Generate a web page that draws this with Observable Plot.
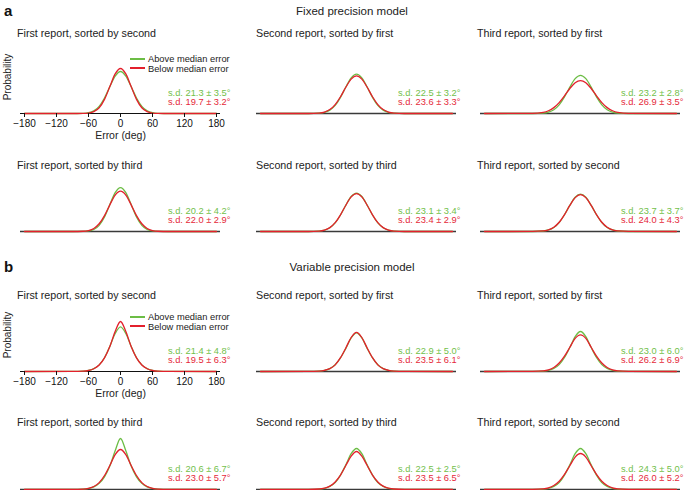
<!DOCTYPE html>
<html>
<head>
<meta charset="utf-8">
<script src="https://cdn.jsdelivr.net/npm/d3@7"></script>
<script src="https://cdn.jsdelivr.net/npm/@observablehq/plot@0.6"></script>
<style>
  html, body { margin: 0; padding: 0; background: #fff; overflow: hidden; }
  #root { position: relative; width: 685px; height: 490px; overflow: hidden;
          font-family: "Liberation Sans", Arial, Helvetica, sans-serif; color: #222; }
  .abs { position: absolute; white-space: nowrap; }
  .panel svg { display: block; }
</style>
</head>
<body>
<div id="root"></div>
<script>
// ---------------- DATA ----------------
const errorDeg = [-180, -90, -70, -60, -50, -40, -30, -20, -10, 0, 10, 20, 30, 40, 50, 60, 70, 90, 180];
const xTicks = [-180, -120, -60, 0, 60, 120, 180];

const panelTitles = [
  "First report, sorted by second", "Second report, sorted by first", "Third report, sorted by first",
  "First report, sorted by third", "Second report, sorted by third", "Third report, sorted by second"
];
const modelTitles = ["Fixed precision model", "Variable precision model"];
const modelLetters = ["a", "b"];
const seriesNames = ["Above median error", "Below median error"];
const axisLabels = {x: "Error (deg)", y: "Probability"};

const fixedSdAbove = ["21.3 ± 3.5", "22.5 ± 3.2", "23.2 ± 2.8", "20.2 ± 4.2", "23.1 ± 3.4", "23.7 ± 3.7"];
const fixedSdBelow = ["19.7 ± 3.2", "23.6 ± 3.3", "26.9 ± 3.5", "22.0 ± 2.9", "23.4 ± 2.9", "24.0 ± 4.3"];
const variableSdAbove = ["21.4 ± 4.8", "22.9 ± 5.0", "23.0 ± 6.0", "20.6 ± 6.7", "22.5 ± 2.5", "24.3 ± 5.0"];
const variableSdBelow = ["19.5 ± 6.3", "23.5 ± 6.1", "26.2 ± 6.9", "23.0 ± 5.7", "23.5 ± 6.5", "26.0 ± 5.2"];

// probability density (x 10^-3 per degree) at each errorDeg value
const fixedAbove = [
  [0, 0, 0.08, 0.35, 1.19, 3.21, 6.95, 12.05, 16.78, 18.9, 16.78, 12.05, 6.95, 3.21, 1.19, 0.35, 0.08, 0, 0],
  [0, 0.01, 0.14, 0.51, 1.50, 3.65, 7.29, 11.94, 16.06, 17.73, 16.06, 11.94, 7.29, 3.65, 1.50, 0.51, 0.14, 0.01, 0],
  [0, 0.01, 0.18, 0.61, 1.69, 3.89, 7.45, 11.85, 15.67, 17.19, 15.67, 11.85, 7.45, 3.89, 1.69, 0.61, 0.18, 0.01, 0],
  [0, 0, 0.05, 0.24, 0.92, 2.78, 6.56, 12.10, 17.47, 19.75, 17.47, 12.10, 6.56, 2.78, 0.92, 0.24, 0.05, 0, 0],
  [0, 0.01, 0.17, 0.59, 1.66, 3.86, 7.43, 11.87, 15.73, 17.27, 15.73, 11.87, 7.43, 3.86, 1.66, 0.59, 0.17, 0.01, 0],
  [0, 0.01, 0.22, 0.68, 1.82, 4.05, 7.55, 11.79, 15.40, 16.83, 15.40, 11.79, 7.55, 4.05, 1.82, 0.68, 0.22, 0.01, 0]
];
const fixedBelow = [
  [0, 0, 0.04, 0.20, 0.81, 2.58, 6.35, 12.10, 17.80, 20.25, 17.80, 12.10, 6.35, 2.58, 0.81, 0.20, 0.04, 0, 0],
  [0, 0.01, 0.21, 0.67, 1.79, 4.02, 7.53, 11.80, 15.45, 16.90, 15.45, 11.80, 7.53, 4.02, 1.79, 0.67, 0.21, 0.01, 0],
  [0, 0.05, 0.50, 1.23, 2.64, 4.91, 7.96, 11.25, 13.84, 14.83, 13.84, 11.25, 7.96, 4.91, 2.64, 1.23, 0.50, 0.05, 0],
  [0, 0, 0.11, 0.44, 1.37, 3.47, 7.15, 11.99, 16.35, 18.13, 16.35, 11.99, 7.15, 3.47, 1.37, 0.44, 0.11, 0, 0],
  [0, 0.01, 0.19, 0.64, 1.74, 3.96, 7.50, 11.83, 15.56, 17.05, 15.56, 11.83, 7.50, 3.96, 1.74, 0.64, 0.19, 0.01, 0],
  [0, 0.02, 0.24, 0.73, 1.90, 4.15, 7.61, 11.75, 15.24, 16.62, 15.24, 11.75, 7.61, 4.15, 1.90, 0.73, 0.24, 0.02, 0]
];
const variableAbove = [
  [0, 0.04, 0.18, 0.5, 1.3, 3.0, 6.2, 11.3, 17.1, 20.1, 17.1, 11.3, 6.2, 3.0, 1.3, 0.5, 0.18, 0.04, 0],
  [0, 0.03, 0.17, 0.52, 1.3, 3.0, 6.1, 10.4, 15.1, 17.4, 15.1, 10.4, 6.1, 3.0, 1.3, 0.52, 0.17, 0.03, 0],
  [0, 0.04, 0.18, 0.54, 1.35, 3.1, 6.3, 10.8, 15.7, 18.0, 15.7, 10.8, 6.3, 3.1, 1.35, 0.54, 0.18, 0.04, 0],
  [0, 0.02, 0.16, 0.46, 1.15, 2.75, 5.7, 10.6, 17.4, 22.95, 17.4, 10.6, 5.7, 2.75, 1.15, 0.46, 0.16, 0.02, 0],
  [0, 0.04, 0.18, 0.55, 1.4, 3.1, 6.5, 11.1, 16.1, 18.45, 16.1, 11.1, 6.5, 3.1, 1.4, 0.55, 0.18, 0.04, 0],
  [0, 0.04, 0.18, 0.55, 1.4, 3.1, 6.5, 11.1, 16.1, 18.45, 16.1, 11.1, 6.5, 3.1, 1.4, 0.55, 0.18, 0.04, 0]
];
const variableBelow = [
  [0, 0.02, 0.16, 0.45, 1.24, 2.9, 6.1, 11.25, 18.0, 22.5, 18.0, 11.25, 6.1, 2.9, 1.24, 0.45, 0.16, 0.02, 0],
  [0, 0.04, 0.18, 0.53, 1.3, 3.0, 6.2, 10.6, 15.3, 17.6, 15.3, 10.6, 6.2, 3.0, 1.3, 0.53, 0.18, 0.04, 0],
  [0, 0.07, 0.28, 0.74, 1.8, 3.8, 6.9, 10.9, 14.9, 16.5, 14.9, 10.9, 6.9, 3.8, 1.8, 0.74, 0.28, 0.07, 0],
  [0, 0.04, 0.18, 0.54, 1.35, 3.1, 6.3, 10.8, 15.7, 18.0, 15.7, 10.8, 6.3, 3.1, 1.35, 0.54, 0.18, 0.04, 0],
  [0, 0.05, 0.22, 0.63, 1.5, 3.4, 6.5, 10.8, 15.0, 17.1, 15.0, 10.8, 6.5, 3.4, 1.5, 0.63, 0.22, 0.05, 0],
  [0, 0.06, 0.28, 0.73, 1.8, 3.7, 6.8, 10.7, 14.6, 16.2, 14.6, 10.7, 6.8, 3.7, 1.8, 0.73, 0.28, 0.06, 0]
];

// ---------------- STYLE / LAYOUT ----------------
const GREEN = "#6cbd45";
const RED = "#e3202c";
const GREEN_TXT = "#72c04a";
const RED_TXT = "#e5283a";
const FONT = '"Liberation Sans", Arial, Helvetica, sans-serif';

const models = [
  {above: fixedAbove, below: fixedBelow, sdA: fixedSdAbove, sdB: fixedSdBelow, headY: 11, rows: [113, 231], titleY: [33, 165]},
  {above: variableAbove, below: variableBelow, sdA: variableSdAbove, sdB: variableSdBelow, headY: 267, rows: [371, 489], titleY: [295, 422]}
];
const cols = [
  {lineStart: 20, mr: 12, dx: 10, titleX: 17},
  {lineStart: 256, mr: 6, dx: 4, titleX: 256},
  {lineStart: 480, mr: 5, dx: 3, titleX: 477}
];
const LINE_W = 200, ML = 20, MT = 4, FRAME_H = 56, Y_MAX = 25.2;

const root = document.getElementById("root");
function addDiv(text, css) {
  const d = document.createElement("div");
  d.className = "abs";
  d.textContent = text;
  Object.assign(d.style, css);
  root.appendChild(d);
  return d;
}

models.forEach((m, mi) => {
  addDiv(modelLetters[mi], {left: "4px", top: (m.headY - 9) + "px", fontSize: "15px", fontWeight: "bold", lineHeight: "18px", color: "#111"});
  addDiv(modelTitles[mi], {left: "352px", top: (m.headY - 8) + "px", fontSize: "11.5px", lineHeight: "16px", transform: "translateX(-50%)", color: "#222"});

  m.rows.forEach((baseline, ri) => {
    cols.forEach((c, ci) => {
      const i = ri * 3 + ci;
      const withAxis = ri === 0 && ci === 0;
      const topRow = ri === 0;
      const data = errorDeg.map((x, k) => ({x, above: m.above[i][k], below: m.below[i][k]}));
      const mb = topRow ? 34 : 3;
      const marks = [
        Plot.ruleY([0], {stroke: withAxis ? "#111" : "#3a3a3a", strokeWidth: withAxis ? 1 : 1.3}),
        Plot.line(data, {x: "x", y: "above", stroke: GREEN, strokeWidth: 1.3, curve: "monotone-x"}),
        Plot.line(data, {x: "x", y: "below", stroke: RED, strokeWidth: 1.3, curve: "monotone-x"}),
        Plot.text(["s.d. " + m.sdA[i] + "°"], {text: d => d, frameAnchor: "bottom-right", textAnchor: "end", dx: c.dx, dy: -18, fill: GREEN_TXT, fontSize: 9.3}),
        Plot.text(["s.d. " + m.sdB[i] + "°"], {text: d => d, frameAnchor: "bottom-right", textAnchor: "end", dx: c.dx, dy: -9, fill: RED_TXT, fontSize: 9.3})
      ];
      if (withAxis) {
        marks.push(
          Plot.axisX(xTicks, {tickSize: 4, tickPadding: 2, stroke: "#111", fill: "#111",
            tickFormat: d => d < 0 ? "\u2212" + Math.abs(d) : String(d), label: null}),
          Plot.text([axisLabels.x], {text: d => d, frameAnchor: "bottom", dy: 25, fontSize: 10.5, fill: "#222"})
        );
      }
      const width = ML + LINE_W + c.mr;
      const chart = Plot.plot({
        width,
        height: MT + FRAME_H + mb,
        marginTop: MT,
        marginBottom: mb,
        marginLeft: ML,
        marginRight: c.mr,
        insetLeft: 4,
        insetRight: 4,
        style: {fontFamily: FONT, fontSize: "10px", background: "transparent", color: "#111"},
        x: {domain: [-180, 180], axis: null},
        y: {domain: [0, Y_MAX], axis: null},
        marks
      });
      const wrap = document.createElement("div");
      wrap.className = "abs panel";
      wrap.style.left = (c.lineStart - ML) + "px";
      wrap.style.top = (baseline - FRAME_H - MT) + "px";
      wrap.appendChild(chart);
      root.appendChild(wrap);

      addDiv(panelTitles[i], {left: c.titleX + "px", top: (m.titleY[ri] - 7) + "px", fontSize: "10.7px", lineHeight: "14px", color: "#222"});

      if (withAxis) {
        // y-axis title (rotated), placed beside the frame
        addDiv(axisLabels.y, {left: "8px", top: (baseline - 36) + "px", fontSize: "10px", lineHeight: "12px",
          color: "#222", transform: "translate(-50%, -50%) rotate(-90deg)"});
        seriesNames.forEach((name, si) => {
          const item = addDiv("", {left: "130px", top: (baseline - 59 + si * 9.8) + "px", fontSize: "9.3px", lineHeight: "10px", color: "#222"});
          const sw = document.createElement("span");
          Object.assign(sw.style, {display: "inline-block", width: "15px", height: "0px", borderTop: "2px solid " + (si === 0 ? GREEN : RED), verticalAlign: "middle", marginRight: "3px", position: "relative", top: "-1px"});
          item.appendChild(sw);
          item.appendChild(document.createTextNode(name));
        });
      }
    });
  });
});
</script>
</body>
</html>
